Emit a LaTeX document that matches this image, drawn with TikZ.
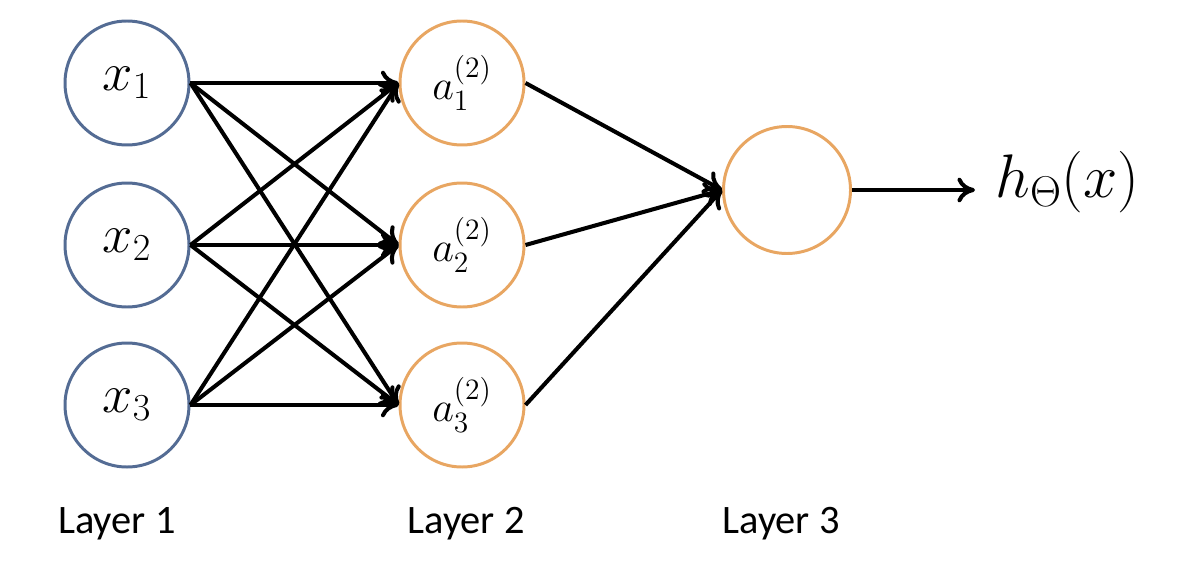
\documentclass[tikz,border=0pt]{standalone}
\usepackage{fix-cm}
\usepackage{amsmath}
\usepackage{fontspec}
\newfontfamily\layerfont{Carlito}
\usetikzlibrary{calc}
\usetikzlibrary{arrows.meta}
\definecolor{inblue}{RGB}{84,108,148}
\definecolor{hidorange}{RGB}{232,166,98}

\begin{document}
\begin{tikzpicture}[
    unit/.style={circle, line width=1.7pt, minimum size=2.48cm, inner sep=0pt},
    conn/.style={line width=2.3pt, -{To[length=10pt, width=14pt]}},
    layer/.style={font=\layerfont\fontsize{23}{27}\selectfont, anchor=base}
  ]
    \useasboundingbox (0, 0) rectangle (24, -11.58);
    \node[unit, draw=inblue, font=\fontsize{31}{36}\selectfont] (x1) at (2.54, -1.66) {$x_1$};
    \node[unit, draw=inblue, font=\fontsize{31}{36}\selectfont] (x2) at (2.54, -4.9) {$x_2$};
    \node[unit, draw=inblue, font=\fontsize{31}{36}\selectfont] (x3) at (2.54, -8.1) {$x_3$};
    \node[unit, draw=hidorange, font=\fontsize{24}{28}\selectfont] (a1) at (9.24, -1.66) {$a_1^{(2)}$};
    \node[unit, draw=hidorange, font=\fontsize{24}{28}\selectfont] (a2) at (9.24, -4.9) {$a_2^{(2)}$};
    \node[unit, draw=hidorange, font=\fontsize{24}{28}\selectfont] (a3) at (9.24, -8.1) {$a_3^{(2)}$};
    \node[unit, draw=hidorange, minimum size=2.54cm] (out) at (15.74, -3.8) {};
    \node[anchor=base west, inner sep=0pt, font=\fontsize{35}{40}\selectfont] (hx) at (19.9, -3.95) {$h_\Theta(x)$};
    \coordinate (hend) at (19.5, -3.8);
    \foreach \i in {1,2,3} {
      \foreach \j in {1,2,3} {
        \draw[conn] (x\i.east) -- (a\j.west);
      }
      \draw[conn] (a\i.east) -- (out.west);
    }
    \draw[conn] (out.east) -- (hend);
    \node[layer] (l1) at (2.34, -10.66) {Layer 1};
    \node[layer] (l2) at (9.32, -10.66) {Layer 2};
    \node[layer] (l3) at (15.62, -10.66) {Layer 3};
  \end{tikzpicture}
\end{document}
